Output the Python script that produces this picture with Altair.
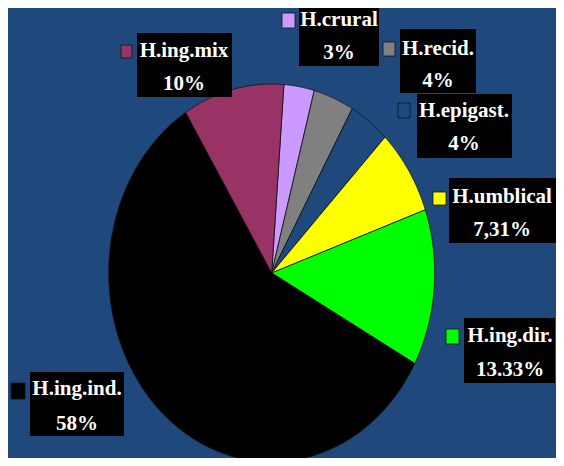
import altair as alt
import pandas as pd

# ---- data ----
categories = ["H.crural", "H.recid.", "H.epigast.", "H.umblical", "H.ing.dir.", "H.ing.ind.", "H.ing.mix"]
values = [3, 4, 4, 7.31, 13.33, 58, 10]
pct_labels = ["3%", "4%", "4%", "7,31%", "13.33%", "58%", "10%"]
colors = ["#cc99ff", "#808080", "#1f497d", "#ffff00", "#00ff00", "#000000", "#993366"]

# ---- layout (chart pixel coords) ----
BG = "#1f497d"
W, H = 548, 450
CX, CY, RX, RY = 263.7, 265.0, 163.0, 189.0
START = 0.075  # radians, angle of first slice from 12 o'clock
N = 72
# label boxes: (x1, y1, x2, y2), squares: (x1, y1, x2, y2), text centre x, baseline1, baseline2
box_pos = [(291, -7, 371, 58), (392, 21, 468, 85), (409, 86, 504, 150), (441, 170, 548, 235),
           (456, 310, 547, 375), (22, 364, 116, 428), (129, 25, 224, 89)]
sq_pos = [(274, 5, 287, 20), (375, 34, 387, 48), (390, 95, 402, 110), (425, 184, 438, 197),
          (438, 321, 451, 336), (3, 375, 17, 391), (113, 37, 124, 50)]
txt_pos = [(331, 18, 51), (430, 47, 79), (456, 109, 142), (494, 195, 228),
           (502, 334, 368), (69, 387, 422), (176, 49, 82)]

df = pd.DataFrame({"cat": categories, "value": values, "order": list(range(len(categories)))})

color_scale = alt.Scale(domain=categories, range=colors)

slices = (
    alt.Chart(df)
    .transform_window(cum="sum(value)", sort=[alt.SortField("order")], frame=[None, 0])
    .transform_joinaggregate(total="sum(value)")
    .transform_calculate(
        a0=f"{START} + 2*PI*(datum.cum - datum.value)/datum.total",
        a1=f"{START} + 2*PI*datum.cum/datum.total",
        steps=f"sequence(0, {N + 2})",
    )
    .transform_flatten(["steps"], as_=["k"])
    .transform_calculate(
        ang=f"datum.a0 + (datum.a1 - datum.a0) * (datum.k - 1) / {N}",
    )
    .transform_calculate(
        ux="datum.k == 0 ? 0 : sin(datum.ang)",
        uy="datum.k == 0 ? 0 : -cos(datum.ang)",
    )
    .mark_line(interpolate="linear-closed", stroke="#111111", strokeWidth=0.8)
    .encode(
        x=alt.X("ux:Q", scale=alt.Scale(domain=[-1, 1], range=[CX - RX, CX + RX], nice=False, zero=False), axis=None),
        y=alt.Y("uy:Q", scale=alt.Scale(domain=[-1, 1], range=[CY - RY, CY + RY], nice=False, zero=False), axis=None),
        fill=alt.Fill("cat:N", scale=color_scale, legend=None),
        detail="cat:N",
        order="k:Q",
    )
)

lab = pd.DataFrame({
    "cat": categories,
    "pct": pct_labels,
    "bx1": [b[0] for b in box_pos], "by1": [b[1] for b in box_pos],
    "bx2": [b[2] for b in box_pos], "by2": [b[3] for b in box_pos],
    "sx1": [s[0] for s in sq_pos], "sy1": [s[1] for s in sq_pos],
    "sx2": [s[2] for s in sq_pos], "sy2": [s[3] for s in sq_pos],
    "tx": [t[0] for t in txt_pos], "ty1": [t[1] for t in txt_pos], "ty2": [t[2] for t in txt_pos],
})

lbase = alt.Chart(lab)

boxes = lbase.mark_rect(color="#000000").encode(
    x=alt.X("bx1:Q", scale=None, axis=None), x2="bx2:Q",
    y=alt.Y("by1:Q", scale=None, axis=None), y2="by2:Q",
)
squares = lbase.mark_rect(stroke="#111111", strokeWidth=0.8).encode(
    x=alt.X("sx1:Q", scale=None, axis=None), x2="sx2:Q",
    y=alt.Y("sy1:Q", scale=None, axis=None), y2="sy2:Q",
    fill=alt.Fill("cat:N", scale=color_scale, legend=None),
)
tstyle = dict(font="Liberation Serif", fontWeight="bold", fontSize=21, color="#ffffff",
              align="center", baseline="alphabetic")
names = lbase.mark_text(**tstyle).encode(
    x=alt.X("tx:Q", scale=None, axis=None),
    y=alt.Y("ty1:Q", scale=None, axis=None),
    text="cat:N",
)
pcts = lbase.mark_text(**tstyle).encode(
    x=alt.X("tx:Q", scale=None, axis=None),
    y=alt.Y("ty2:Q", scale=None, axis=None),
    text="pct:N",
)

chart = (
    alt.layer(slices, boxes, squares, names, pcts)
    .resolve_scale(x="independent", y="independent", fill="shared")
    .properties(width=W, height=H, background=BG, padding=0, autosize=alt.AutoSizeParams(type="none"))
    .configure_view(stroke=None)
)

chart.save("out.html", embed_options={"renderer": "svg", "actions": False})
